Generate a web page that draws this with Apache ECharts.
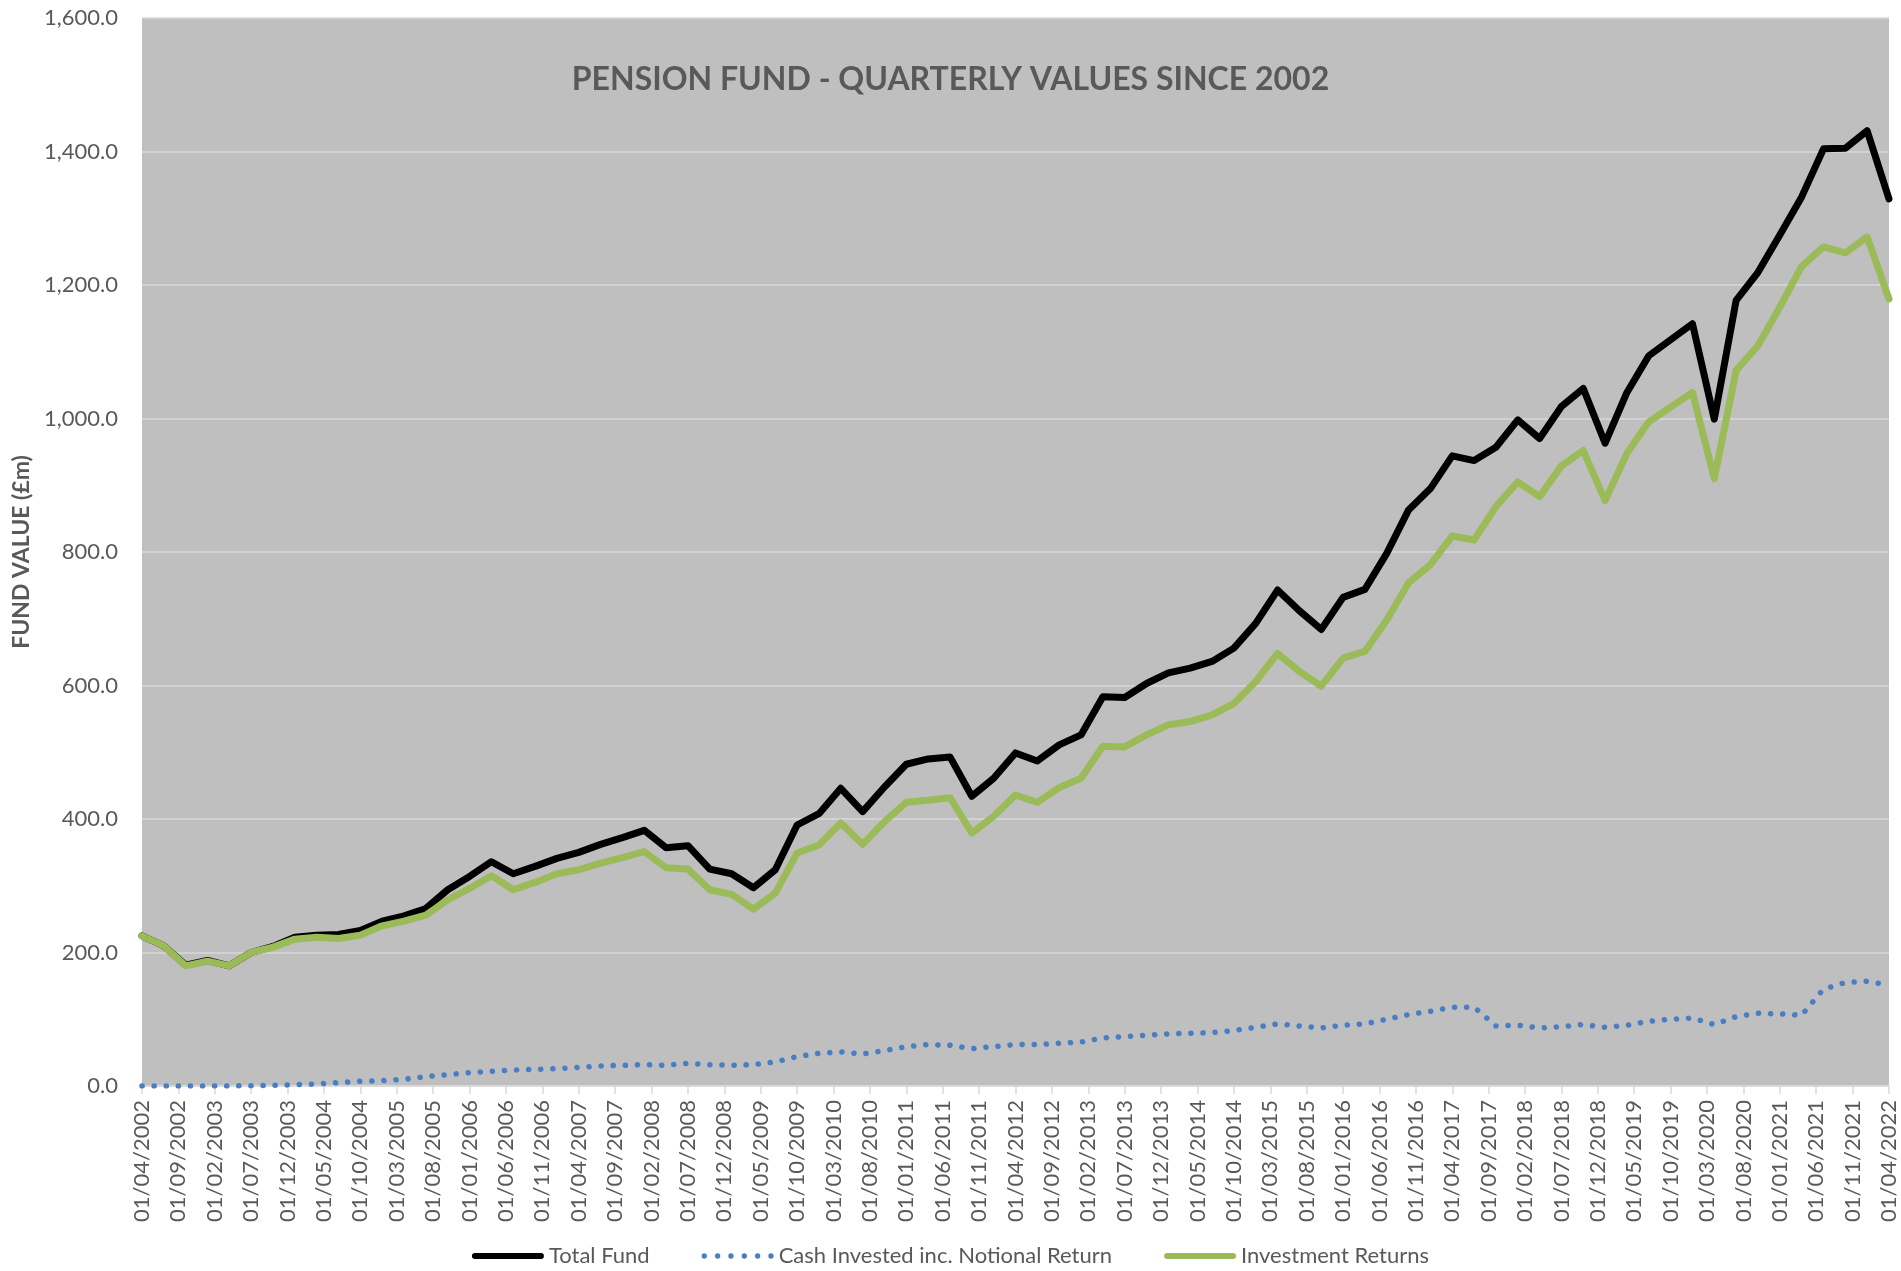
<!DOCTYPE html>
<html>
<head>
<meta charset="utf-8">
<title>Pension Fund - Quarterly Values</title>
<script src="https://cdn.jsdelivr.net/npm/echarts@6/dist/echarts.min.js"></script>
<style>
  html, body { margin: 0; padding: 0; background: #ffffff; }
  #chart { width: 1901px; height: 1271px; }
</style>
</head>
<body>
<div id="chart"></div>
<script>
// quarterly values (£m), first point 01/04/2002, last 01/04/2022
const totalFund = [
  225, 210, 181, 188, 180, 200, 209, 223, 226, 227,
  233, 247, 255, 266, 294, 314, 336, 318, 329, 341,
  350, 362, 372, 383, 357, 360, 325, 318, 297, 324,
  391, 408, 446, 411, 448, 482, 490, 493, 434, 461,
  499, 487, 511, 526, 583, 582, 603, 619, 626, 636,
  656, 693, 743, 712, 684, 732, 744, 798, 863, 895,
  944, 937, 957, 998, 970, 1018, 1045, 963, 1039, 1094,
  1118, 1142, 999, 1177, 1219, 1275, 1332, 1404, 1405, 1431,
  1329
];

const cashInvested = [
  0, 0, 0, 0, 0, 0.5, 1, 2, 3, 5,
  7, 8, 10, 14, 17, 20, 22, 24, 25, 26,
  28, 30, 31, 32, 31, 34, 32, 31, 32, 36,
  44, 49, 51, 48, 53, 59, 62, 61, 56, 59,
  62, 62, 64, 66, 72, 74, 76, 78, 79, 80,
  83, 88, 93, 90, 87, 91, 93, 100, 107, 112,
  118, 118, 90, 91, 87, 89, 92, 88, 91, 97,
  100, 102, 92, 104, 109, 108, 106, 145, 155, 157,
  151
];

const investmentReturns = [
  225, 210, 180, 187, 180, 200, 208, 220, 223, 221,
  226, 240, 247, 256, 279, 296, 315, 294, 305, 318,
  324, 334, 342, 351, 327, 325, 294, 287, 265, 289,
  349, 361, 394, 362, 396, 425, 428, 432, 379, 404,
  436, 425, 447, 461, 509, 508, 526, 541, 546, 556,
  573, 606, 648, 621, 599, 641, 651, 698, 754, 781,
  824, 818, 868, 905, 883, 929, 952, 877, 948, 995,
  1017, 1039, 910, 1072, 1109, 1167, 1228, 1257, 1248, 1272,
  1179
];

const seriesNames = ['Total Fund', 'Cash Invested inc. Notional Return', 'Investment Returns'];

// monthly date axis, labelled every 5 months like the original
const START_YEAR = 2002;
const START_MONTH = 4;
const MONTH_COUNT = 241;
const LABEL_STEP = 5;

const months = [];
for (let m = 0; m < MONTH_COUNT; m++) {
  const k = START_MONTH - 1 + m;
  const mm = String((k % 12) + 1).padStart(2, '0');
  months.push('01/' + mm + '/' + (START_YEAR + Math.floor(k / 12)));
}

// each quarterly value sits on its month
const toPoints = values => values.map((v, i) => [i * 3, v]);

// legend icons: a thick bar, and a row of dots for the cash line
const barIcon = 'path://M3,0 L69,0 A3,3 0 0,1 69,6 L3,6 A3,3 0 0,1 3,0 Z';
let dotIcon = 'path://';
for (let d = 0; d < 6; d++) {
  const cx = 2.5 + d * 12.6;
  dotIcon += 'M' + (cx - 2.5) + ',3 a2.5,2.5 0 1,0 5,0 a2.5,2.5 0 1,0 -5,0 ';
}

const FONT = 'Lato, "Open Sans", sans-serif';
const TEXT_GREY = '#595959';
const GRID_GREY = '#d9d9d9';

const chart = echarts.init(document.getElementById('chart'));

chart.setOption({
  animation: false,
  backgroundColor: '#ffffff',
  textStyle: { fontFamily: FONT },
  title: {
    text: 'PENSION FUND - QUARTERLY VALUES SINCE 2002',
    left: 'center',
    top: 59,
    textStyle: {
      fontFamily: FONT,
      fontSize: 32,
      fontWeight: 'bold',
      color: TEXT_GREY,
    },
  },
  legend: {
    data: [
      { name: seriesNames[0], icon: barIcon },
      { name: seriesNames[1], icon: dotIcon },
      { name: seriesNames[2], icon: barIcon },
    ],
    left: 'center',
    top: 1240,
    itemWidth: 72,
    itemHeight: 6,
    itemGap: 52,
    textStyle: {
      fontFamily: FONT,
      fontSize: 22,
      color: TEXT_GREY,
    },
  },
  grid: {
    left: 142,
    right: 12,
    top: 18,
    bottom: 185,
    show: true,
    backgroundColor: '#bfbfbf',
    borderWidth: 0,
    containLabel: false,
    outerBoundsMode: 'none',
  },
  xAxis: {
    type: 'category',
    data: months,
    boundaryGap: false,
    axisLine: {
      show: true,
      lineStyle: { color: GRID_GREY, width: 1.5 },
    },
    axisTick: {
      show: true,
      interval: LABEL_STEP - 1,
      length: 8,
      lineStyle: { color: GRID_GREY, width: 1.5 },
    },
    axisLabel: {
      interval: LABEL_STEP - 1,
      rotate: 90,
      margin: 14,
      fontFamily: FONT,
      fontSize: 22,
      color: TEXT_GREY,
      hideOverlap: false,
    },
    splitLine: { show: false },
  },
  yAxis: {
    type: 'value',
    min: 0,
    max: 1600,
    interval: 200,
    name: 'FUND VALUE (£m)',
    nameLocation: 'middle',
    nameRotate: 90,
    nameGap: 106,
    nameTextStyle: {
      fontFamily: FONT,
      fontSize: 23,
      fontWeight: 'bold',
      color: TEXT_GREY,
    },
    axisLine: { show: false },
    axisTick: { show: false },
    axisLabel: {
      margin: 24,
      fontFamily: FONT,
      fontSize: 22,
      color: TEXT_GREY,
      formatter: v => v.toLocaleString('en-GB', { minimumFractionDigits: 1, maximumFractionDigits: 1 }),
    },
    splitLine: {
      show: true,
      lineStyle: { color: GRID_GREY, width: 1.5 },
    },
  },
  series: [
    {
      name: seriesNames[0],
      type: 'line',
      data: toPoints(totalFund),
      symbol: 'none',
      color: '#000000',
      lineStyle: { color: '#000000', width: 7, join: 'round', cap: 'round' },
      z: 2,
    },
    {
      name: seriesNames[1],
      type: 'line',
      data: toPoints(cashInvested),
      symbol: 'none',
      color: '#4a7ec2',
      lineStyle: { color: '#4a7ec2', width: 5.5, type: [0.1, 12], cap: 'round', join: 'round' },
      z: 3,
    },
    {
      name: seriesNames[2],
      type: 'line',
      data: toPoints(investmentReturns),
      symbol: 'none',
      color: '#9bbb59',
      lineStyle: { color: '#9bbb59', width: 7, join: 'round', cap: 'round' },
      z: 4,
    },
  ],
});
</script>
</body>
</html>
